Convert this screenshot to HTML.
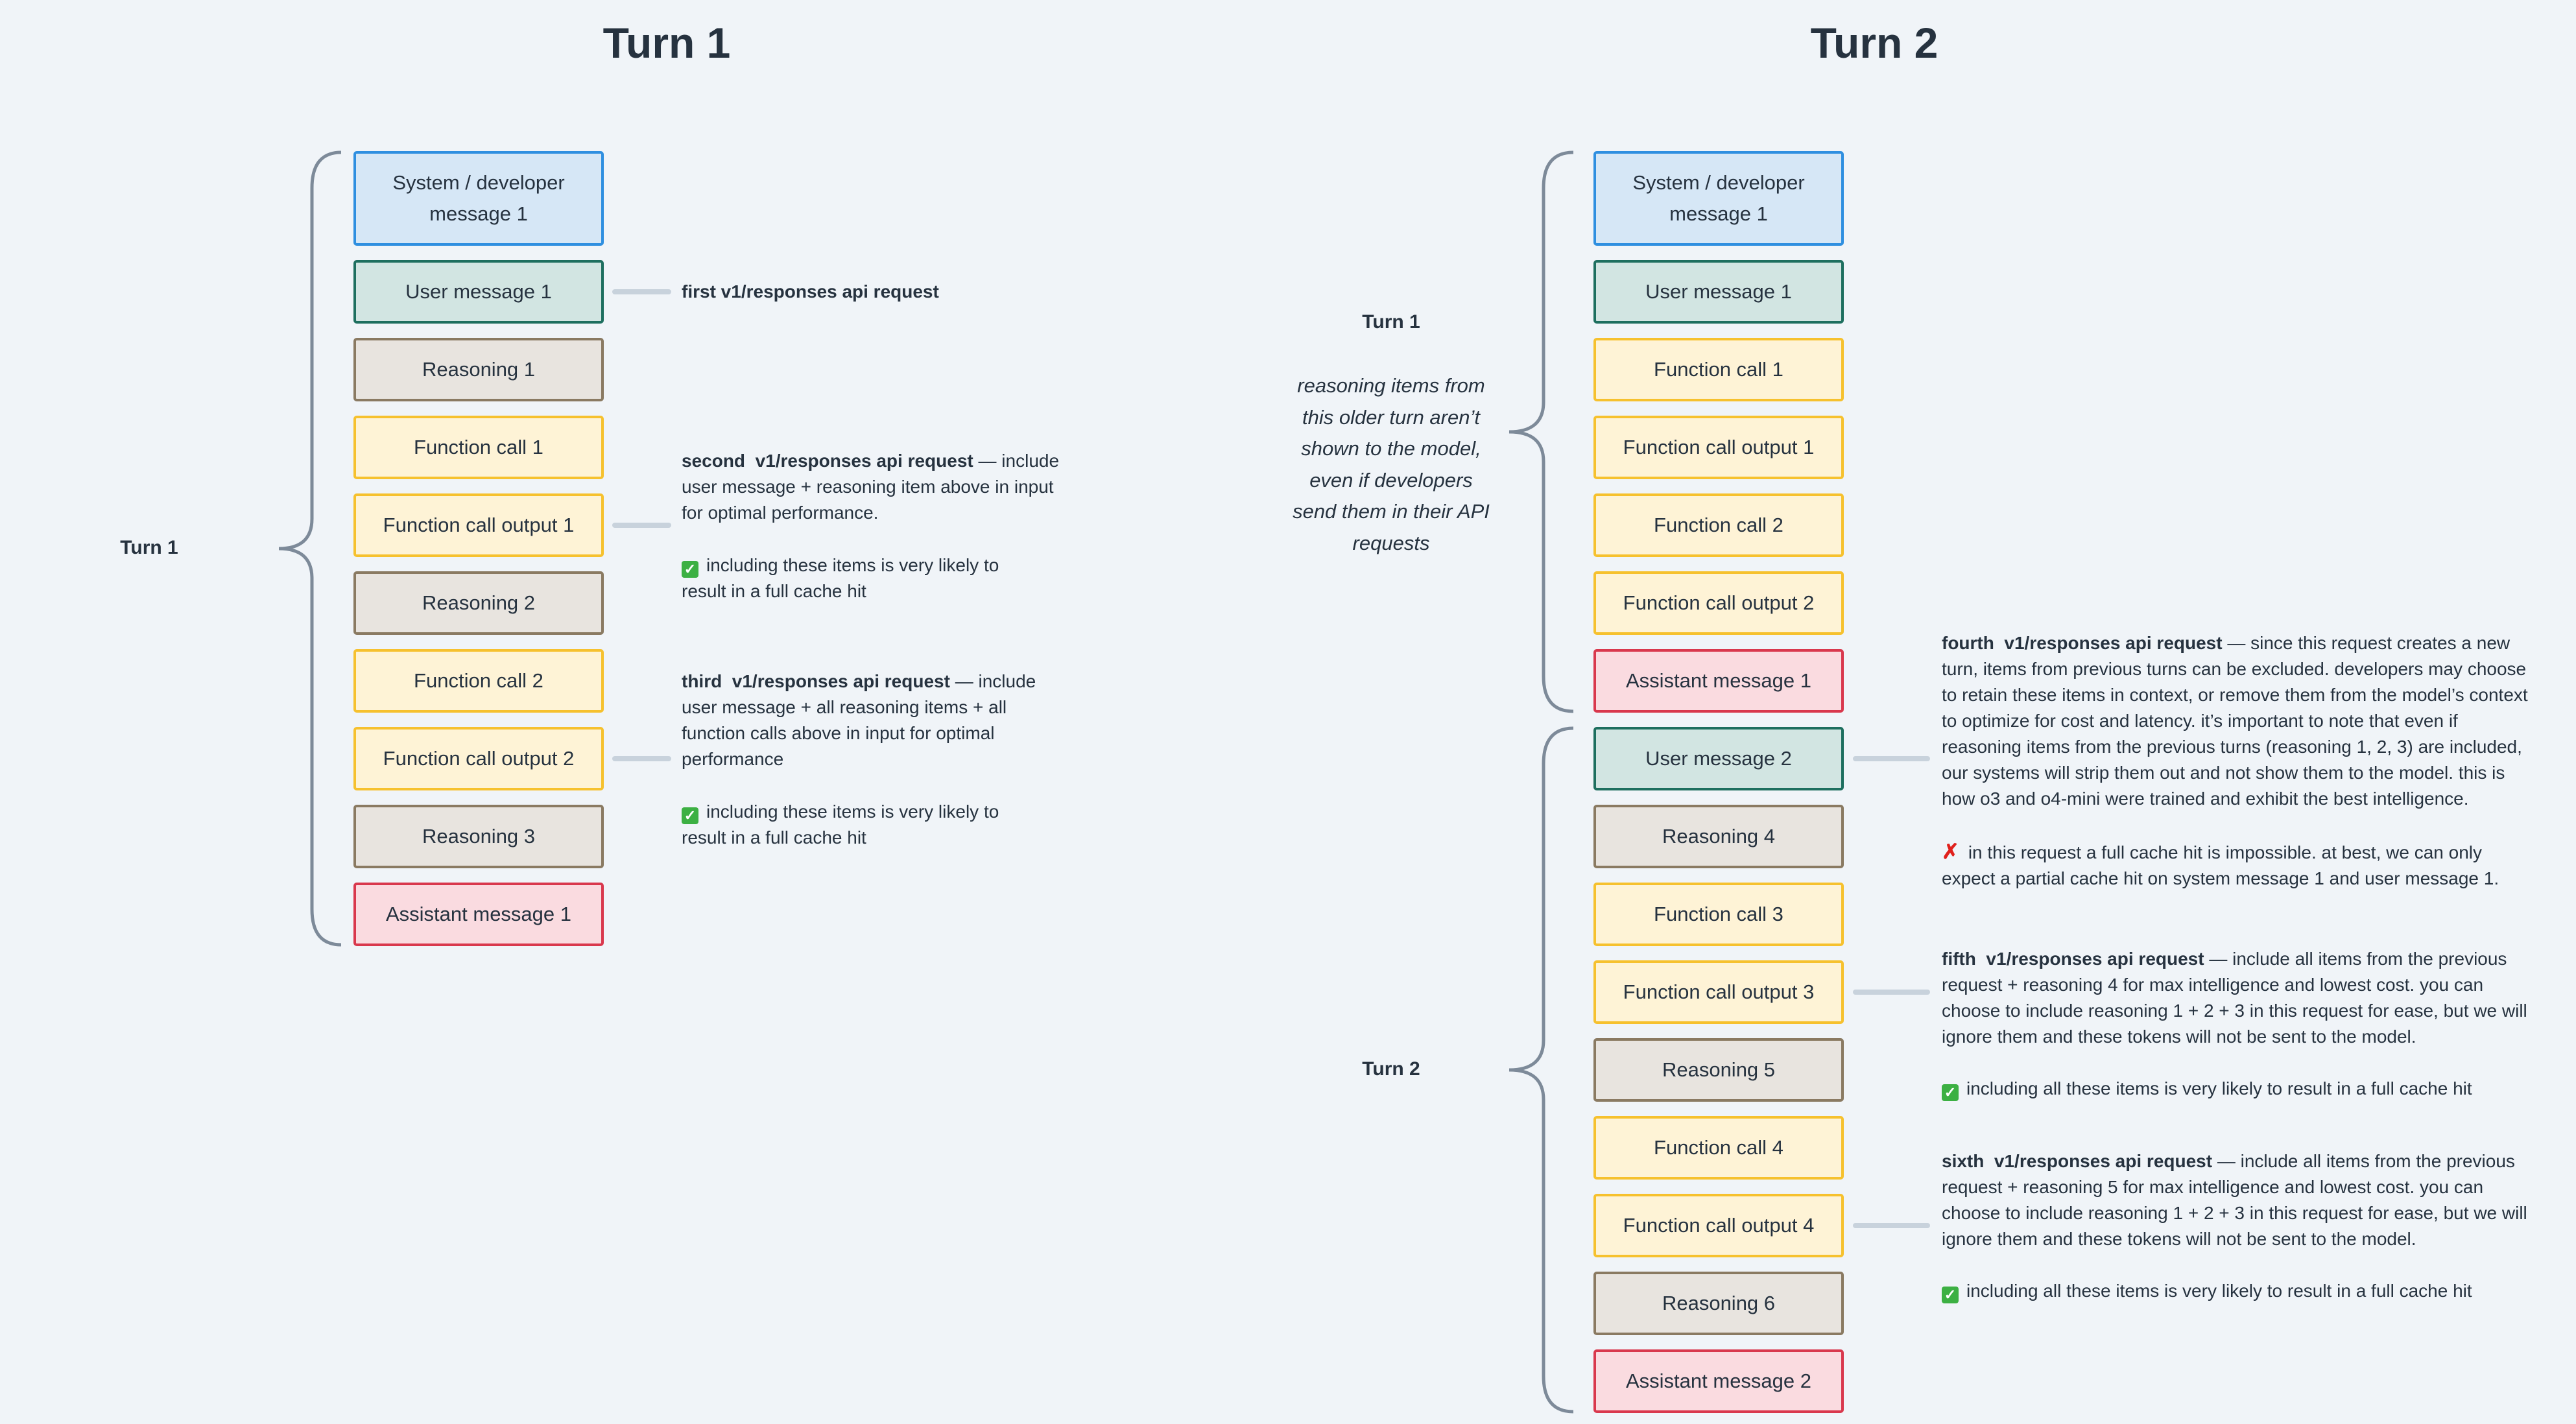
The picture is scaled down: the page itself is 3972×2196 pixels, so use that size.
<!DOCTYPE html>
<html><head><meta charset="utf-8"><style>
*{margin:0;padding:0;box-sizing:border-box}
body{width:3972px;height:2196px;background:#f0f4f8;position:relative;overflow:hidden;font-family:"Liberation Sans",sans-serif;color:#26323f}
.b{position:absolute;width:386px;height:98px;border:4px solid;border-radius:5px;display:flex;align-items:center;justify-content:center;text-align:center;font-size:31px;line-height:48px}
.sys{background:#d6e7f6;border-color:#2f8fe0}
.usr{background:#d2e5e2;border-color:#1e6f5f}
.rea{background:#e8e4df;border-color:#8a7a62}
.fn{background:#fef3d6;border-color:#f6c12e}
.ast{background:#fadbe0;border-color:#d9384d}
.t{position:absolute;white-space:nowrap;font-size:28px;line-height:40px}
.t b{font-weight:bold}
.c{position:absolute;height:8px;background:#c8d2dc;border-radius:4px}
.ti{position:absolute;font-weight:bold;font-size:66px;transform:translateX(-50%);top:28px}
.lbl{position:absolute;font-weight:bold;font-size:30px;transform:translate(-50%,-50%);white-space:nowrap}
.ck{display:inline-block;width:26px;height:26px;background:#3cb043;border-radius:4px;color:#fff;font-size:22px;line-height:26px;text-align:center;vertical-align:-4px;margin-right:12px;font-weight:bold}
.x{color:#e0201c;font-weight:bold;font-size:32px;margin-right:14px}
.it{position:absolute;left:1945px;width:400px;text-align:center;font-style:italic;font-size:31px;line-height:48.5px;top:571px}
</style></head><body>
<div class="ti" style="left:1028px">Turn 1</div>
<div class="ti" style="left:2890px">Turn 2</div>

<svg width="3972" height="2196" style="position:absolute;left:0;top:0" fill="none" stroke="#7d8a99" stroke-width="5">
<path d="M526,235 Q481,235 481,290 L481,800 Q481,846 430,846 Q481,846 481,892 L481,1402 Q481,1457 526,1457"/>
<path d="M2426,235 Q2380,235 2380,290 L2380,620 Q2380,666 2327,666 Q2380,666 2380,712 L2380,1043 Q2380,1097 2426,1097"/>
<path d="M2426,1123 Q2380,1123 2380,1178 L2380,1604 Q2380,1650 2327,1650 Q2380,1650 2380,1696 L2380,2122 Q2380,2177 2426,2177"/>
</svg>

<div class="lbl" style="left:230px;top:845px">Turn 1</div>
<div class="lbl" style="left:2145px;top:497px">Turn 1</div>
<div class="lbl" style="left:2145px;top:1649px">Turn 2</div>
<div class="it">reasoning items from<br>this older turn aren’t<br>shown to the model,<br>even if developers<br>send them in their API<br>requests</div>

<div class="b sys" style="left:545px;top:233px;height:146px">System / developer<br>message 1</div>
<div class="b usr" style="left:545px;top:401px">User message 1</div>
<div class="b rea" style="left:545px;top:521px">Reasoning 1</div>
<div class="b fn" style="left:545px;top:641px">Function call 1</div>
<div class="b fn" style="left:545px;top:761px">Function call output 1</div>
<div class="b rea" style="left:545px;top:881px">Reasoning 2</div>
<div class="b fn" style="left:545px;top:1001px">Function call 2</div>
<div class="b fn" style="left:545px;top:1121px">Function call output 2</div>
<div class="b rea" style="left:545px;top:1241px">Reasoning 3</div>
<div class="b ast" style="left:545px;top:1361px">Assistant message 1</div>

<div class="c" style="left:944px;top:446px;width:91px"></div>
<div class="c" style="left:944px;top:806px;width:91px"></div>
<div class="c" style="left:944px;top:1166px;width:91px"></div>

<div class="t" style="left:1051px;top:430px"><b>first v1/responses api request</b></div>
<div class="t" style="left:1051px;top:691px"><b>second&nbsp; v1/responses api request</b> — include<br>user message + reasoning item above in input<br>for optimal performance.</div>
<div class="t" style="left:1051px;top:852px"><span class="ck">✓</span>including these items is very likely to<br>result in a full cache hit</div>
<div class="t" style="left:1051px;top:1031px"><b>third&nbsp; v1/responses api request</b> — include<br>user message + all reasoning items + all<br>function calls above in input for optimal<br>performance</div>
<div class="t" style="left:1051px;top:1232px"><span class="ck">✓</span>including these items is very likely to<br>result in a full cache hit</div>

<div class="b sys" style="left:2457px;top:233px;height:146px">System / developer<br>message 1</div>
<div class="b usr" style="left:2457px;top:401px">User message 1</div>
<div class="b fn" style="left:2457px;top:521px">Function call 1</div>
<div class="b fn" style="left:2457px;top:641px">Function call output 1</div>
<div class="b fn" style="left:2457px;top:761px">Function call 2</div>
<div class="b fn" style="left:2457px;top:881px">Function call output 2</div>
<div class="b ast" style="left:2457px;top:1001px">Assistant message 1</div>
<div class="b usr" style="left:2457px;top:1121px">User message 2</div>
<div class="b rea" style="left:2457px;top:1241px">Reasoning 4</div>
<div class="b fn" style="left:2457px;top:1361px">Function call 3</div>
<div class="b fn" style="left:2457px;top:1481px">Function call output 3</div>
<div class="b rea" style="left:2457px;top:1601px">Reasoning 5</div>
<div class="b fn" style="left:2457px;top:1721px">Function call 4</div>
<div class="b fn" style="left:2457px;top:1841px">Function call output 4</div>
<div class="b rea" style="left:2457px;top:1961px">Reasoning 6</div>
<div class="b ast" style="left:2457px;top:2081px">Assistant message 2</div>

<div class="c" style="left:2857px;top:1166px;width:119px"></div>
<div class="c" style="left:2857px;top:1526px;width:119px"></div>
<div class="c" style="left:2857px;top:1886px;width:119px"></div>

<div class="t" style="left:2994px;top:972px"><b>fourth&nbsp; v1/responses api request</b> — since this request creates a new<br>turn, items from previous turns can be excluded. developers may choose<br>to retain these items in context, or remove them from the model’s context<br>to optimize for cost and latency. it’s important to note that even if<br>reasoning items from the previous turns (reasoning 1, 2, 3) are included,<br>our systems will strip them out and not show them to the model. this is<br>how o3 and o4-mini were trained and exhibit the best intelligence.</div>
<div class="t" style="left:2994px;top:1293px"><span class="x">✗</span>in this request a full cache hit is impossible. at best, we can only<br>expect a partial cache hit on system message 1 and user message 1.</div>
<div class="t" style="left:2994px;top:1459px"><b>fifth&nbsp; v1/responses api request</b> — include all items from the previous<br>request + reasoning 4 for max intelligence and lowest cost. you can<br>choose to include reasoning 1 + 2 + 3 in this request for ease, but we will<br>ignore them and these tokens will not be sent to the model.</div>
<div class="t" style="left:2994px;top:1659px"><span class="ck">✓</span>including all these items is very likely to result in a full cache hit</div>
<div class="t" style="left:2994px;top:1771px"><b>sixth&nbsp; v1/responses api request</b> — include all items from the previous<br>request + reasoning 5 for max intelligence and lowest cost. you can<br>choose to include reasoning 1 + 2 + 3 in this request for ease, but we will<br>ignore them and these tokens will not be sent to the model.</div>
<div class="t" style="left:2994px;top:1971px"><span class="ck">✓</span>including all these items is very likely to result in a full cache hit</div>
</body></html>
